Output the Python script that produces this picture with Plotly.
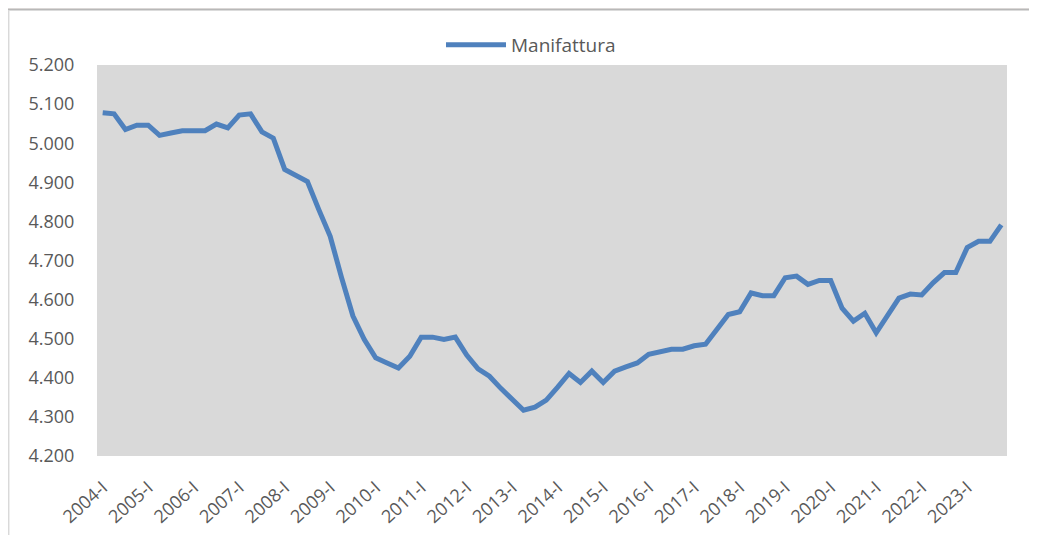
import plotly.graph_objects as go

years = list(range(2004, 2024))
quarters = ["I", "II", "III", "IV"]
categories = [f"{y}-{q}" for y in years for q in quarters]

manifattura = [
    5078, 5075, 5035, 5046,
    5046, 5020, 5026, 5032,
    5032, 5032, 5049, 5039,
    5072, 5075, 5029, 5013,
    4933, 4919, 4902, 4830,
    4762, 4656, 4558, 4498,
    4451, 4438, 4425, 4455,
    4504, 4504, 4498, 4504,
    4458, 4423, 4404, 4373,
    4344, 4317, 4325, 4343,
    4376, 4411, 4388, 4417,
    4388, 4417, 4428, 4438,
    4460, 4467, 4473, 4473,
    4482, 4486, 4526, 4562,
    4569, 4617, 4610, 4610,
    4656, 4660, 4639, 4649,
    4649, 4578, 4545, 4565,
    4515, 4558, 4604, 4614,
    4612, 4643, 4669, 4669,
    4733, 4749, 4749, 4791,
]

tick_labels = [f"{y}-I" for y in years]

FONT = "Open Sans"
TXT = "#595959"

# page body has an 8px margin: figure spans 8..1037 x 8..535 in the window
W, H = 1029, 527
L, R, T, B = 89, 30, 57, 79
PW, PH = W - L - R, H - T - B


def px_x(px):
    return (px - 8 - L) / PW


def px_y(py):
    return (H - B - (py - 8)) / PH


fig = go.Figure()
fig.add_trace(go.Scatter(
    x=categories, y=manifattura, mode="lines", name="Manifattura",
    line=dict(color="#4f81bd", width=5, shape="linear"),
))

fig.update_layout(
    width=W, height=H,
    margin=dict(l=L, r=R, t=T, b=B),
    paper_bgcolor="white", plot_bgcolor="#d9d9d9",
    separators=",.",
    font=dict(family=FONT, size=18, color=TXT),
    showlegend=True,
    legend=dict(orientation="h", x=px_x(441), xanchor="left", y=px_y(45), yanchor="middle",
                font=dict(family=FONT, size=19, color=TXT), itemwidth=60,
                bgcolor="rgba(0,0,0,0)"),
    xaxis=dict(type="category", categoryorder="array", categoryarray=categories,
               range=[-0.5, len(categories) - 0.5], automargin=False,
               tickmode="array", tickvals=tick_labels, ticktext=tick_labels,
               tickangle=-42, ticks="outside", ticklen=13, tickcolor="rgba(0,0,0,0)",
               showgrid=False, zeroline=False, showline=False,
               tickfont=dict(family=FONT, size=18, color=TXT)),
    yaxis=dict(range=[4200, 5200], dtick=100, tick0=4200, tickformat=",.0f",
               automargin=False,
               ticks="outside", ticklen=18, tickcolor="rgba(0,0,0,0)",
               showgrid=False, zeroline=False, showline=False,
               tickfont=dict(family=FONT, size=18, color=TXT)),
    shapes=[
        dict(type="rect", xref="paper", yref="paper", x0=-0.2, x1=1.1,
             y0=px_y(9), y1=1.3, fillcolor="#fdf7f5", line=dict(width=0), layer="below"),
        dict(type="line", xref="paper", yref="paper", x0=-0.2, x1=1.1,
             y0=px_y(9.5), y1=px_y(9.5), line=dict(color="#b8b8b8", width=2)),
        dict(type="line", xref="paper", yref="paper", x0=px_x(8.7), x1=px_x(8.7),
             y0=-0.3, y1=px_y(10), line=dict(color="#d9d9d9", width=1.5)),
    ],
)

fig.write_html("out.html")
